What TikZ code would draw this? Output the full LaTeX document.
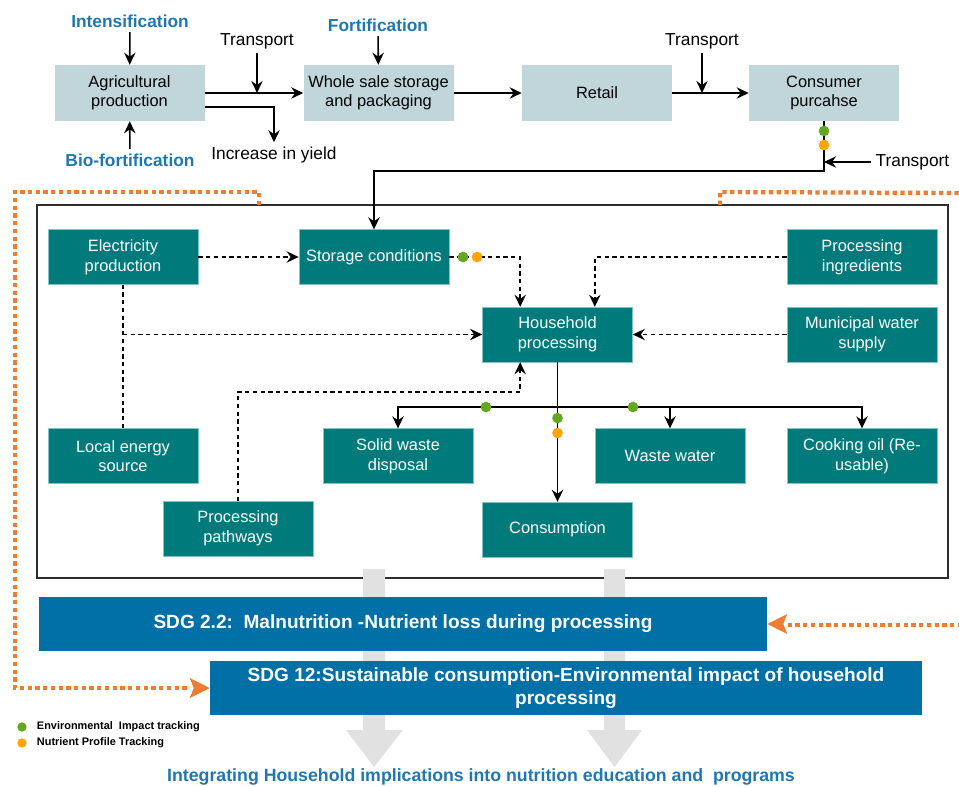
\documentclass[tikz,border=0pt]{standalone}
\usepackage{fontspec}
\setmainfont{Liberation Sans}
\usepackage{tikz}
\usetikzlibrary{shapes.geometric, arrows, arrows.meta, positioning}
\definecolor{chainfill}{RGB}{192,214,219}
\definecolor{tealbox}{RGB}{0,122,122}
\definecolor{tealline}{RGB}{130,195,195}
\definecolor{sdgblue}{RGB}{0,112,166}
\definecolor{headblue}{RGB}{30,120,175}
\definecolor{dotorange}{RGB}{237,125,49}
\definecolor{envgreen}{RGB}{100,168,30}
\definecolor{nutorange}{RGB}{255,165,0}
\definecolor{bigarrow}{RGB}{225,225,225}
\definecolor{framegray}{RGB}{45,45,45}
\tikzstyle{chain} = [rectangle, minimum width=112.5pt, minimum height=42pt, text centered, align=center, fill=chainfill, font=\fontsize{12.3}{14.5}\selectfont]
\tikzstyle{factor} = [rectangle, minimum width=112.5pt, minimum height=41pt, text centered, align=center, draw=tealline, line width=0.5pt, fill=tealbox, text=white, font=\fontsize{12.3}{14.8}\selectfont]
\tikzstyle{sdg} = [rectangle, minimum height=40.5pt, text centered, align=center, fill=sdgblue, text=white, font=\bfseries\fontsize{14.3}{17}\selectfont]
\tikzstyle{head} = [text=headblue, font=\bfseries\fontsize{13}{15}\selectfont]
\tikzstyle{plain} = [font=\fontsize{13}{15}\selectfont]
\tikzstyle{arrow} = [line width=1.2pt,->,>={Stealth[length=9pt,width=8.5pt,inset=3pt]}]
\tikzstyle{darrow} = [line width=1.2pt,->,>={Stealth[length=9pt,width=8.5pt,inset=3pt]}, dash pattern=on 3.2pt off 2.6pt]
\tikzstyle{dline} = [line width=1.2pt, dash pattern=on 3.2pt off 2.6pt]
\tikzstyle{orangeline} = [dotorange, line width=3.2pt, dash pattern=on 3.2pt off 2.6pt]
\tikzstyle{envdot} = [circle, fill=envgreen, inner sep=0pt, minimum size=8pt]
\tikzstyle{nutdot} = [circle, fill=nutorange, inner sep=0pt, minimum size=8pt]

\begin{document}
\begin{tikzpicture}[x=0.75pt, y=-0.75pt]
\useasboundingbox (0,0) rectangle (959,786);

%% supply chain
\node (agri) [chain] at (129.5,93) {Agricultural\\production};
\node (whole) [chain] at (378.5,93) {Whole sale storage\\and packaging};
\node (retail) [chain] at (597,93) {Retail};
\node (consumer) [chain] at (824,93) {Consumer\\purcahse};

\node (intens) [head] at (130,21) {Intensification};
\node (biofort) [head] at (130,160) {Bio-fortification};
\node (fortif) [head] at (378,25) {Fortification};
\node (trA) [plain] at (257,41) {Transport};
\node (trB) [plain] at (702,41) {Transport};
\node (trC) [plain, anchor=west] at (871,162) {Transport};
\node (yield) [plain] at (274,155) {Increase in yield};

\coordinate (jA) at (257,93);
\coordinate (jB) at (702,93);
\coordinate (jC) at (824,162);
\coordinate (bend) at (824,171);

\draw [arrow] (intens) -- (agri);
\draw [arrow] (biofort) -- (agri);
\draw [arrow] (fortif) -- (whole);
\draw [arrow] (agri) -- (whole);
\draw [arrow] ([yshift=-10.5pt]agri.east) -| (yield.north);
\draw [arrow] (trA) -- (jA);
\draw [arrow] (whole) -- (retail);
\draw [arrow] (retail) -- (consumer);
\draw [arrow] (trB) -- (jB);
\draw [arrow] (trC) -- (jC);

%% household frame
\draw [framegray, line width=1.2pt] (37,205) rectangle (948,578);

\node (elec) [factor] at (123,257) {Electricity\\production};
\node (storage) [factor] at (374,257) {Storage conditions};
\node (ingred) [factor] at (862,257) {Processing\\ingredients};
\node (household) [factor] at (557.5,334.5) {Household\\processing};
\node (water) [factor] at (862,334.5) {Municipal water\\supply};
\node (local) [factor] at (123,456) {Local energy\\source};
\node (solid) [factor] at (398,456) {Solid waste\\disposal};
\node (wastew) [factor] at (670,456) {Waste water};
\node (oil) [factor] at (862,456) {Cooking oil (Re-\\usable)};
\node (pathways) [factor] at (238,528.5) {Processing\\pathways};
\node (consumption) [factor] at (557.5,529.5) {Consumption};

\draw [arrow] (consumer.south) -- (bend) -| (storage.north);

\coordinate (pw) at (238,392);
\coordinate (hb) at (557.5,407);

\draw [darrow] (elec) -- (storage);
\draw [dline] (elec) -- (local);
\draw [darrow] (elec.south |- household.west) -- (household.west);
\draw [darrow] (storage.east) -| ([xshift=-28pt]household.north);
\draw [darrow] (ingred.west) -| ([xshift=28pt]household.north);
\draw [darrow] (water) -- (household);
\draw [darrow] (pathways.north) -- (pw) -| ([xshift=-28pt]household.south);
\draw [arrow] (household) -- (consumption);
\draw [arrow] (hb) -| (solid.north);
\draw [arrow] (hb) -| (wastew.north);
\draw [arrow] (hb) -| (oil.north);

%% tracking dots
\node (cg) [envdot] at (824,131) {};
\node (co) [nutdot] at (824,145) {};
\node (sg) [envdot] at (463,257) {};
\node (so) [nutdot] at (477,257) {};
\node (lg) [envdot] at (486,407) {};
\node (rg) [envdot] at (633,407) {};
\node (mg) [envdot] at (557.5,418) {};
\node (mo) [nutdot] at (557.5,433) {};

%% SDG targets
\fill [bigarrow] (363,569) -- (385,569) -- (385,730) -- (403,730) -- (374,767) -- (346,730) -- (363,730) -- cycle;
\fill [bigarrow] (604,569) -- (625,569) -- (625,730) -- (642,730) -- (614.5,767) -- (587,730) -- (604,730) -- cycle;

\node (sdgA) [sdg, minimum width=546pt] at (403,624) {SDG 2.2:\ \ Malnutrition -Nutrient loss during processing};
\node (sdgB) [sdg, minimum width=534pt] at (566,688) {SDG 12:Sustainable consumption-Environmental impact of household\\processing};

\coordinate (oA) at (259,205);
\coordinate (oB) at (720,205);
\coordinate (oC) at (962,193);
\coordinate (oD) at (962,625);
\draw [orangeline] (oA) -- (259,192) -- (15,192) -- (15,688) -- (190,688);
\draw [orangeline] (oB) -- (720,192) -- (oC);
\draw [orangeline] (oD) -- (787,625);
\fill [dotorange] (sdgB.west) -- ++(-15pt,-7.5pt) -- ++(3pt,7.5pt) -- ++(-3pt,7.5pt) -- cycle;
\fill [dotorange] (sdgA.east) -- ++(15pt,-7.5pt) -- ++(-3pt,7.5pt) -- ++(3pt,7.5pt) -- cycle;

%% legend
\node (legA) [envdot, minimum size=7pt] at (22,727) {};
\node (legB) [nutdot, minimum size=7pt] at (22,743) {};
\node [anchor=west, font=\bfseries\fontsize{8.2}{9.5}\selectfont] at ([xshift=4pt]legA.east) {Environmental\ \ Impact tracking};
\node [anchor=west, font=\bfseries\fontsize{8.2}{9.5}\selectfont] at ([xshift=4pt]legB.east) {Nutrient Profile Tracking};

\node (goal) [head, font=\bfseries\fontsize{13.3}{15}\selectfont] at (481,777) {Integrating Household implications into nutrition education and\ \ programs};

\end{tikzpicture}
\end{document}
